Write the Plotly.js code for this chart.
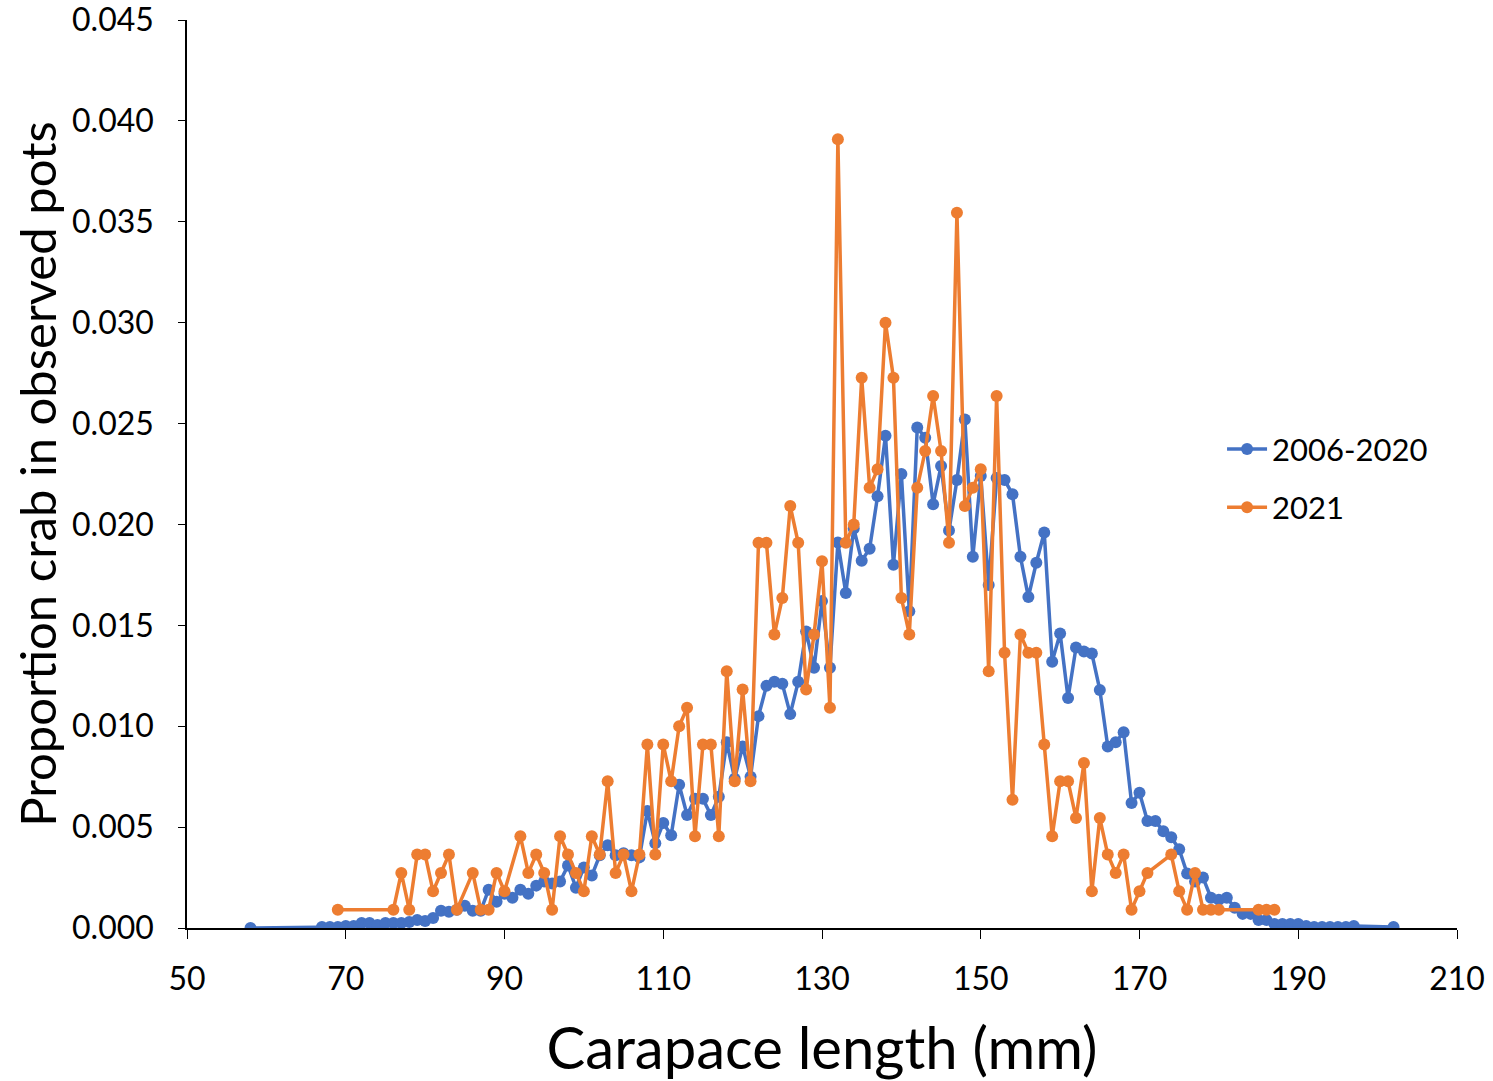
<!DOCTYPE html>
<html>
<head>
<meta charset="utf-8">
<script src="https://cdn.plot.ly/plotly-3.0.1.min.js"></script>
<style>html,body{margin:0;padding:0;background:#fff;}#chart{width:1493px;height:1081px;}</style>
</head>
<body>
<div id="chart"></div>
<script>
// 2006-2020 series
const blueX = [58,67,68,69,70,71,72,73,74,75,76,77,78,79,80,81,82,83,84,85,86,87,88,89,90,91,92,93,94,95,96,97,98,99,100,101,102,103,104,105,106,107,108,109,110,111,112,113,114,115,116,117,118,119,120,121,122,123,124,125,126,127,128,129,130,131,132,133,134,135,136,137,138,139,140,141,142,143,144,145,146,147,148,149,150,151,152,153,154,155,156,157,158,159,160,161,162,163,164,165,166,167,168,169,170,171,172,173,174,175,176,177,178,179,180,181,182,183,184,185,186,187,188,189,190,191,192,193,194,195,196,197,202];
const blueY = [0.0000,0.00005,0.00005,0.00005,0.0001,0.0001,0.00025,0.00025,0.00015,0.00025,0.00025,0.00025,0.0003,0.0004,0.00035,0.0005,0.00085,0.0008,0.0009,0.0011,0.00085,0.00085,0.0019,0.0013,0.0017,0.0015,0.0019,0.0017,0.0021,0.0023,0.0022,0.0023,0.0031,0.0020,0.0030,0.0026,0.0036,0.0041,0.0036,0.0037,0.0036,0.0035,0.0058,0.0042,0.0052,0.0046,0.0071,0.0056,0.0064,0.0064,0.0056,0.0065,0.0092,0.0074,0.0090,0.0075,0.0105,0.0120,0.0122,0.0121,0.0106,0.0122,0.0147,0.0129,0.0162,0.0129,0.0191,0.0166,0.0198,0.0182,0.0188,0.0214,0.0244,0.0180,0.0225,0.0157,0.0248,0.0243,0.0210,0.0229,0.0197,0.0222,0.0252,0.0184,0.0224,0.0170,0.0223,0.0222,0.0215,0.0184,0.0164,0.0181,0.0196,0.0132,0.0146,0.0114,0.0139,0.0137,0.0136,0.0118,0.0090,0.0092,0.0097,0.0062,0.0067,0.0053,0.0053,0.0048,0.0045,0.0039,0.0027,0.0023,0.0025,0.0015,0.0014,0.0015,0.0010,0.0007,0.0007,0.0004,0.0004,0.0002,0.0002,0.0002,0.0002,0.0001,0.00005,0.00005,0.00005,0.00005,0.00005,0.0001,0.00005];
// 2021 series
const orangeX = [69,76,77,78,79,80,81,82,83,84,86,87,88,89,90,92,93,94,95,96,97,98,99,100,101,102,103,104,105,106,107,108,109,110,111,112,113,114,115,116,117,118,119,120,121,122,123,124,125,126,127,128,129,130,131,132,133,134,135,136,137,138,139,140,141,142,143,144,145,146,147,148,149,150,151,152,153,154,155,156,157,158,159,160,161,162,163,164,165,166,167,168,169,170,171,174,175,176,177,178,179,180,185,186,187];
const orangeY = [0.00091,0.00091,0.00273,0.00091,0.00364,0.00364,0.00182,0.00273,0.00364,0.00091,0.00273,0.00091,0.00091,0.00273,0.00182,0.00455,0.00273,0.00364,0.00273,0.00091,0.00455,0.00364,0.00273,0.00182,0.00455,0.00364,0.00727,0.00273,0.00364,0.00182,0.00364,0.00909,0.00364,0.00909,0.00727,0.01000,0.01091,0.00455,0.00909,0.00909,0.00455,0.01273,0.00727,0.01182,0.00727,0.01909,0.01909,0.01455,0.01636,0.02091,0.01909,0.01182,0.01455,0.01818,0.01091,0.03909,0.01909,0.02000,0.02727,0.02182,0.02273,0.03000,0.02727,0.01636,0.01455,0.02182,0.02364,0.02636,0.02364,0.01909,0.03545,0.02091,0.02182,0.02273,0.01273,0.02636,0.01364,0.00636,0.01455,0.01364,0.01364,0.00909,0.00455,0.00727,0.00727,0.00545,0.00818,0.00182,0.00545,0.00364,0.00273,0.00364,0.00091,0.00182,0.00273,0.00364,0.00182,0.00091,0.00273,0.00091,0.00091,0.00091,0.00091,0.00091,0.00091];
const seriesNames = ['2006-2020','2021'];
const xTicks = [50,70,90,110,130,150,170,190,210];
const yTicks = [0,0.005,0.01,0.015,0.02,0.025,0.03,0.035,0.04,0.045];

const FONT = 'Lato, "Open Sans", sans-serif';
const traces = [
  {x: blueX, y: blueY, name: seriesNames[0], legendgroup: 'a', type: 'scatter', mode: 'lines+markers',
   line: {color: '#4472C4', width: 3.5}, marker: {color: '#4472C4', size: 12}},
  {x: orangeX, y: orangeY, name: seriesNames[1], legendgroup: 'b', type: 'scatter', mode: 'lines+markers',
   line: {color: '#ED7D31', width: 3.5}, marker: {color: '#ED7D31', size: 12}}
];
const layout = {
  width: 1493, height: 1081,
  margin: {l: 187, r: 36, t: 20, b: 153},
  paper_bgcolor: '#fff', plot_bgcolor: '#fff',
  font: {family: FONT, color: '#000', size: 30},
  showlegend: true,
  legend: {x: 0.815, y: 0.557, xanchor: 'left', yanchor: 'top', font: {size: 31, family: FONT}, bgcolor: 'rgba(0,0,0,0)',
    traceorder: 'grouped', tracegroupgap: 15, itemwidth: 40},
  xaxis: {range: [50, 210], tickvals: xTicks, ticktext: xTicks.map(String), showgrid: false, zeroline: false,
    showline: true, linecolor: '#000', linewidth: 1.5, ticks: 'outside', ticklen: 9, tickcolor: '#000',
    tickfont: {size: 32, family: FONT}, ticklabelstandoff: 13, ticklabeloverflow: 'allow',
    title: {text: 'Carapace length (mm)', font: {size: 58, family: FONT}, standoff: 32}},
  yaxis: {range: [0, 0.045], tickvals: yTicks, ticktext: yTicks.map(v => v.toFixed(3)), showgrid: false, zeroline: false,
    showline: true, linecolor: '#000', linewidth: 1.5, ticks: 'outside', ticklen: 7, tickcolor: '#000',
    tickfont: {size: 32, family: FONT}, ticklabelstandoff: 18, ticklabeloverflow: 'allow',
    title: {text: 'Proportion crab in observed pots', font: {size: 49, family: FONT}, standoff: 0}}
};
Plotly.newPlot('chart', traces, layout, {displayModeBar: false});
</script>
</body>
</html>
